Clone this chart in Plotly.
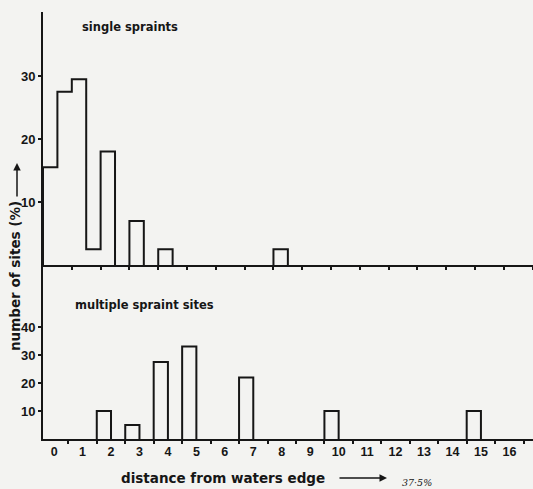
import plotly.graph_objects as go

# Percentage of sites in each 0.5 m distance band, keyed by the band's upper edge (m)
single_band_end = [0, 0.5, 1.0, 1.5, 2.0, 3.0, 4.0, 8.0]
single_pct = [15.5, 27.5, 29.5, 2.5, 18, 7, 2.5, 2.5]

multiple_band_end = [2, 3, 4, 5, 7, 10, 15]
multiple_pct = [10, 5, 27.5, 33, 22, 10, 10]

distance_ticks = list(range(0, 17))
pct_ticks_single = [10, 20, 30]
pct_ticks_multiple = [10, 20, 30, 40]

BAND = 0.5
W, H = 533, 489
INK = "#161616"
PAPER = "#f3f3f1"
FONT = "DejaVu Sans"
NUM_FONT = "Liberation Sans Narrow, Liberation Sans, DejaVu Sans"


def outline(ends, vals):
    """Step outline of a histogram over 0.5 m bands; empty stretches are left to the baseline."""
    xs, ys = [], []
    bands = sorted(zip(ends, vals))
    prev_end = None
    for end, v in bands:
        left = end - BAND
        if prev_end is None or abs(left - prev_end) > 1e-9:
            # new run of occupied bands: close the previous one, rise from the baseline
            if prev_end is not None:
                xs += [prev_end, None]
                ys += [0, None]
            xs.append(left)
            ys.append(0)
        xs.append(left)
        ys.append(v)
        prev_end = end
    xs.append(prev_end)
    ys.append(0)
    return xs, ys


def px(x):
    return x / W


def py(y):
    return 1 - y / H


fig = go.Figure()

sx, sy = outline(single_band_end, single_pct)
fig.add_trace(go.Scatter(x=sx, y=sy, mode="lines", line=dict(color=INK, width=2, shape="hv"),
                         connectgaps=False, xaxis="x", yaxis="y", hoverinfo="skip", showlegend=False))

mx, my = outline(multiple_band_end, multiple_pct)
fig.add_trace(go.Scatter(x=mx, y=my, mode="lines", line=dict(color=INK, width=2, shape="hv"),
                         connectgaps=False, xaxis="x2", yaxis="y2", hoverinfo="skip", showlegend=False))

half_marks = [k + 0.5 for k in distance_ticks]

axis_common = dict(showgrid=False, zeroline=False, showline=True, linecolor=INK, linewidth=2,
                   fixedrange=True)

fig.update_layout(
    width=W, height=H,
    margin=dict(l=0, r=0, t=0, b=0),
    paper_bgcolor=PAPER, plot_bgcolor=PAPER,
    showlegend=False,
    xaxis=dict(domain=[px(43), 1], range=[-0.5, 16.51], anchor="y",
               tickvals=half_marks, ticks="outside", ticklen=3, tickwidth=1.5, tickcolor=INK,
               showticklabels=False, **axis_common),
    yaxis=dict(domain=[py(265), py(12)], range=[0, 40.16], anchor="x",
               tickvals=pct_ticks_single, ticks="outside", ticklen=3, tickwidth=1.5, tickcolor=INK,
               tickfont=dict(family=NUM_FONT, size=13, color=INK, weight="bold"), **axis_common),
    xaxis2=dict(domain=[px(43), 1], range=[-0.39, 16.83], anchor="y2",
                tickvals=distance_ticks, ticktext=[str(t) for t in distance_ticks], ticks="",
                tickfont=dict(family=NUM_FONT, size=12.5, color=INK, weight="bold"),
                minor=dict(tickvals=half_marks, ticks="outside", ticklen=3, tickwidth=1.5,
                           tickcolor=INK, showgrid=False),
                **axis_common),
    yaxis2=dict(domain=[py(439), py(265)], range=[0, 62.14], anchor="x2",
                tickvals=pct_ticks_multiple, ticks="outside", ticklen=3, tickwidth=1.5, tickcolor=INK,
                tickfont=dict(family=NUM_FONT, size=13, color=INK, weight="bold"), **axis_common),
)

label_font = dict(family=FONT, size=11.5, color=INK, weight="bold")
title_font = dict(family=FONT, size=13.5, color=INK, weight="bold")

fig.add_annotation(x=px(129.5), y=py(27), xref="paper", yref="paper", text="single spraints",
                   showarrow=False, font=label_font, xanchor="center", yanchor="middle")
fig.add_annotation(x=px(144), y=py(305), xref="paper", yref="paper", text="multiple spraint sites",
                   showarrow=False, font=label_font, xanchor="center", yanchor="middle")

# axis titles with their arrows
fig.add_annotation(x=px(222.5), y=py(478), xref="paper", yref="paper",
                   text="distance from waters edge", showarrow=False, font=title_font,
                   xanchor="center", yanchor="middle")
fig.add_annotation(x=px(387), y=py(478), xref="paper", yref="paper", text="",
                   showarrow=True, ax=-49, ay=0, arrowhead=2, arrowsize=1, arrowwidth=1.5,
                   arrowcolor=INK)
fig.add_annotation(x=px(417), y=py(482), xref="paper", yref="paper", text="37·5%",
                   showarrow=False, font=dict(family="DejaVu Serif", size=9.5, color=INK,
                                              style="italic"),
                   xanchor="center", yanchor="middle")

fig.add_annotation(x=px(15), y=py(276), xref="paper", yref="paper", text="number of sites (%)",
                   showarrow=False, font=title_font, textangle=-90,
                   xanchor="center", yanchor="middle")
fig.add_annotation(x=px(17), y=py(163), xref="paper", yref="paper", text="",
                   showarrow=True, ax=0, ay=35, arrowhead=2, arrowsize=1, arrowwidth=1.5,
                   arrowcolor=INK)

fig.write_html("out.html")
